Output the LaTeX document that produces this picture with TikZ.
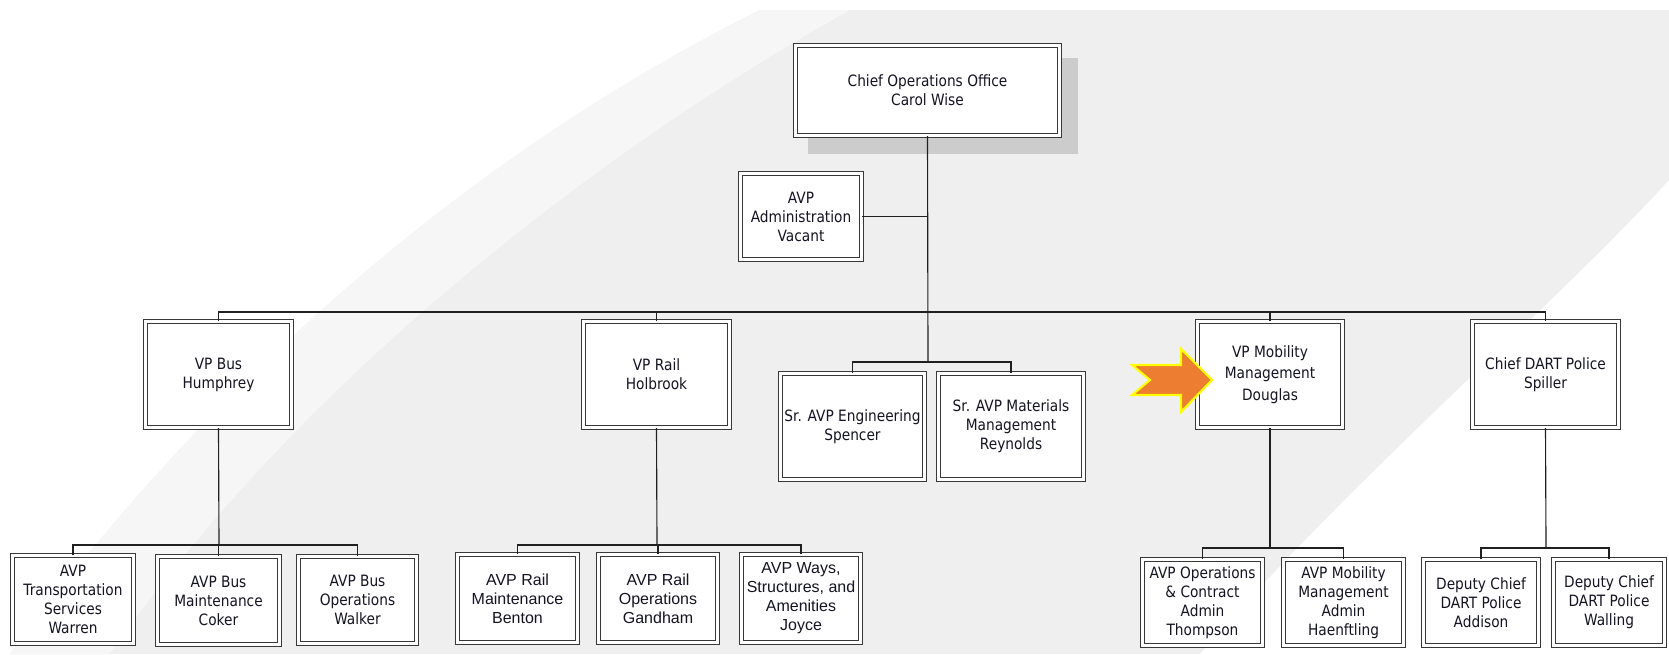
\documentclass[tikz,border=0pt]{standalone}
\usepackage{fontspec}
\setmainfont{DejaVu Sans}[FakeStretch=0.88]
\newfontfamily\arialf{Liberation Sans}
\definecolor{bgc}{HTML}{EFEFEF}
\definecolor{bgl}{HTML}{F6F6F6}
\definecolor{boxc}{HTML}{383838}
\definecolor{linec}{HTML}{202020}
\definecolor{txt}{HTML}{141422}
\definecolor{shadowc}{HTML}{CCCCCC}
\definecolor{arrowor}{HTML}{ED7D31}
\definecolor{arrowyl}{HTML}{FFFF00}
\tikzset{
  obox/.style={draw=boxc, line width=0.75pt, double=white, double distance=2.2pt,
    fill=white, inner sep=1pt, align=center, text=txt,
    font=\fontsize{11.7}{14.3}\selectfont},
  railfont/.style={font=\arialf\fontsize{12}{14.3}\selectfont},
  conn/.style={draw=linec, line width=0.85pt},
}
\newcommand\mybox[7][]{\node[obox,#1,minimum width={(#5-#3-5)*0.75pt},minimum height={(#6-#4-5)*0.75pt}] (#2) at ({(#3+#5)/2},{(#4+#6)/2}) {#7};}
\begin{document}
\begin{tikzpicture}[x=0.75pt,y=-0.75pt]
\useasboundingbox (0,0) rectangle (1669,654);
% background
\fill[white] (0,0) rectangle (1669,654);
\fill[bgc] (760,10) .. controls (520,130) and (250,330) .. (10,654) -- (1200,654)
  .. controls (1350,480) and (1550,310) .. (1669,180) -- (1669,10) -- cycle;
\fill[bgl] (760,10) .. controls (520,130) and (250,330) .. (10,654) -- (110,654)
  .. controls (300,380) and (600,150) .. (850,10) -- cycle;
% shadow of top box
\fill[shadowc] (808,58) rectangle (1078,154);
% boxes
\mybox{top}{793}{43}{1062}{138}{Chief Operations Office\\Carol Wise}
\mybox{admin}{738}{171}{864}{262}{AVP\\Administration\\Vacant}
\mybox{vpbus}{143}{319}{294}{430}{VP Bus\\Humphrey}
\mybox{vprail}{581}{319}{732}{430}{VP Rail\\Holbrook}
\mybox{eng}{778}{371}{927}{482}{Sr. AVP Engineering\\Spencer}
\mybox{mat}{936}{371}{1086}{482}{Sr. AVP Materials\\Management\\Reynolds}
\mybox[font=\fontsize{11.7}{16}\selectfont]{mob}{1195}{319}{1345}{430}{VP Mobility\\Management\\Douglas}
\mybox{police}{1470}{319}{1621}{430}{Chief DART Police\\Spiller}
\mybox{warren}{10}{553}{136}{646}{AVP\\Transportation\\Services\\Warren}
\mybox{coker}{155}{554}{282}{647}{AVP Bus\\Maintenance\\Coker}
\mybox{walker}{296}{554}{419}{646}{AVP Bus\\Operations\\Walker}
\mybox[railfont]{benton}{455}{552}{580}{645}{AVP Rail\\Maintenance\\Benton}
\mybox[railfont]{gandham}{596}{552}{720}{645}{AVP Rail\\Operations\\Gandham}
\mybox[railfont]{joyce}{739}{552}{863}{645}{AVP Ways,\\Structures, and\\Amenities\\Joyce}
\mybox{thompson}{1140}{557}{1265}{648}{AVP Operations\\\& Contract\\Admin\\Thompson}
\mybox{haen}{1281}{557}{1406}{648}{AVP Mobility\\Management\\Admin\\Haenftling}
\mybox{addison}{1421}{557}{1541}{648}{Deputy Chief\\DART Police\\Addison}
\mybox{walling}{1551}{557}{1667}{648}{Deputy Chief\\DART Police\\Walling}
% junction coordinates
\coordinate (busbar) at (928,312);
\coordinate (srbar) at (928,362);
\coordinate (bbar) at (219,545);
\coordinate (rbar) at (657,545);
\coordinate (mbar) at (1270,548);
\coordinate (pbar) at (1546,548);
% connectors
\draw[conn] (top.south) -- (srbar);
\draw[conn] (admin.east) -- (admin.east -| top.south);
\draw[conn] (vpbus.north) |- (police.north |- busbar) -- (police.north);
\draw[conn] (vprail.north) -- (vprail.north |- busbar);
\draw[conn] (mob.north) -- (mob.north |- busbar);
\draw[conn] (eng.north) |- (mat.north |- srbar) -- (mat.north);
\draw[conn] (vpbus.south) -- (bbar);
\draw[conn] (warren.north) |- (walker.north |- bbar) -- (walker.north);
\draw[conn] (coker.north) -- (coker.north |- bbar);
\draw[conn] (vprail.south) -- (rbar);
\draw[conn] (benton.north) |- (joyce.north |- rbar) -- (joyce.north);
\draw[conn] (gandham.north) -- (gandham.north |- rbar);
\draw[conn] (mob.south) -- (mbar);
\draw[conn] (thompson.north) |- (haen.north |- mbar) -- (haen.north);
\draw[conn] (police.south) -- (pbar);
\draw[conn] (addison.north) |- (walling.north |- pbar) -- (walling.north);
% highlight arrow
\filldraw[fill=arrowor, draw=arrowyl, line width=1.6pt, line join=miter]
  (1132,365) -- (1181,365) -- (1181,349) -- (1212,380) -- (1181,412)
  -- (1181,395) -- (1132,395) -- (1150,380) -- cycle;
\end{tikzpicture}
\end{document}
